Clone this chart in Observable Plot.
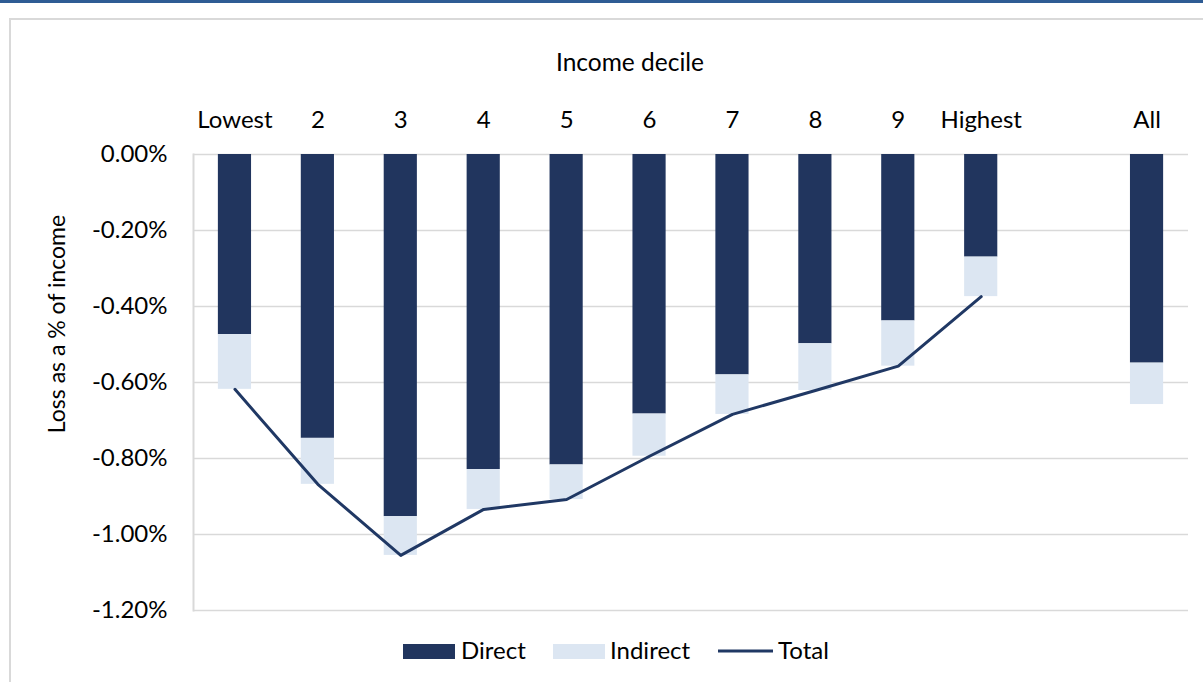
<!DOCTYPE html>
<html><head><meta charset="utf-8">
<script src="https://cdn.jsdelivr.net/npm/d3@7"></script>
<script src="https://cdn.jsdelivr.net/npm/@observablehq/plot@0.6"></script>
<style>
body{margin:0;background:#fff;font-family:Lato,sans-serif;}
#wrap{position:relative;width:1203px;height:682px;overflow:hidden;background:#fff;}
#topbar{position:absolute;left:0;top:0;width:1203px;height:3px;background:#2E5C94;}
#frame{position:absolute;left:9px;top:18px;width:1300px;height:800px;border-left:2px solid #d9d9d9;border-top:2px solid #d9d9d9;}
#chart{position:absolute;left:0;top:0;}
#overlay{position:absolute;left:0;top:0;pointer-events:none;}
</style></head>
<body>
<div id="wrap">
<div id="topbar"></div>
<div id="frame"></div>
<div id="chart"></div>
<svg id="overlay" width="1203" height="682" font-family="Lato, sans-serif" font-size="24" fill="#000">
  <text x="630" y="71" text-anchor="middle" font-size="24.5">Income decile</text>
  <text transform="translate(65,324) rotate(-90)" text-anchor="middle" font-size="23">Loss as a % of income</text>
  <rect x="403" y="644" width="52" height="15" fill="#21355E"></rect>
  <text x="461" y="659">Direct</text>
  <rect x="553" y="644" width="52" height="15" fill="#DCE6F2"></rect>
  <text x="610" y="659">Indirect</text>
  <line x1="718" x2="773" y1="651" y2="651" stroke="#203864" stroke-width="3"></line>
  <text x="778" y="659">Total</text>
</svg>
</div>
<script>
const categories = ["Lowest","2","3","4","5","6","7","8","9","Highest"," ","All"];
const barCats = ["Lowest","2","3","4","5","6","7","8","9","Highest","All"];
const direct   = [-0.474,-0.747,-0.953,-0.829,-0.817,-0.683,-0.580,-0.498,-0.438,-0.270,-0.549];
const indirect = [-0.144,-0.121,-0.102,-0.105,-0.091,-0.111,-0.104,-0.123,-0.119,-0.104,-0.109];
const lineCats = ["Lowest","2","3","4","5","6","7","8","9","Highest"];
const total    = [-0.618,-0.868,-1.055,-0.934,-0.908,-0.794,-0.684,-0.621,-0.557,-0.374];
const yTicks = [0,-0.2,-0.4,-0.6,-0.8,-1.0,-1.2];

const bars = barCats.map((c,i)=>({cat:c, d:direct[i], t:direct[i]+indirect[i]}));
const lineData = lineCats.map((c,i)=>({cat:c, total:total[i]}));

const chart = Plot.plot({
  width:1203, height:682,
  marginLeft:193, marginRight:15, marginTop:154, marginBottom:72,
  style:{background:"transparent", fontFamily:"Lato, sans-serif", fontSize:"24px", color:"#000"},
  x:{type:"band", domain:categories, paddingInner:0.6, paddingOuter:0.3, round:false, axis:null},
  y:{domain:[-1.2,0], axis:null},
  marks:[
    Plot.gridY(yTicks, {stroke:"#d9d9d9", strokeOpacity:1, strokeWidth:1.5}),
    Plot.frame({anchor:"left", stroke:"#d9d9d9", strokeWidth:2}),
    Plot.axisX({anchor:"top", tickSize:0, tickPadding:27, fontSize:24, label:null, tickFormat:d=>d.trim()}),
    Plot.axisY(yTicks, {anchor:"left", tickSize:0, tickPadding:26, fontSize:24, label:null, tickFormat:d=>d.toFixed(2)+"%"}),
    Plot.barY(bars, {x:"cat", y1:0, y2:"d", fill:"#21355E"}),
    Plot.barY(bars, {x:"cat", y1:"d", y2:"t", fill:"#DCE6F2"}),
    Plot.line(lineData, {x:"cat", y:"total", stroke:"#203864", strokeWidth:3})
  ]
});
document.getElementById("chart").appendChild(chart);
</script>
</body></html>
